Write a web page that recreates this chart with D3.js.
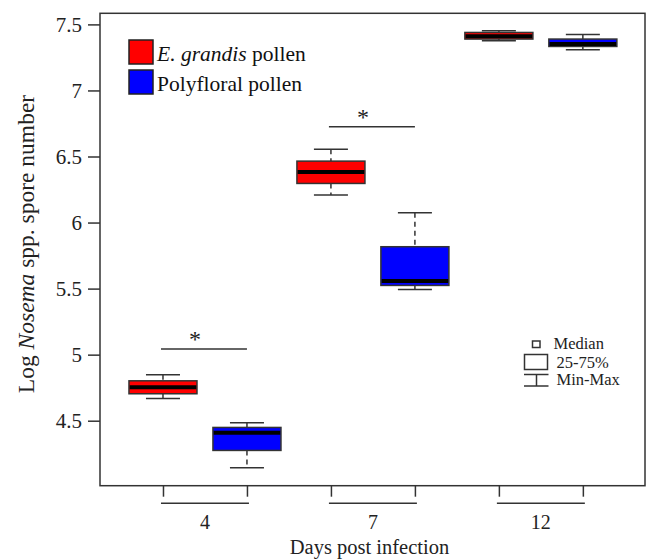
<!DOCTYPE html>
<html>
<head>
<meta charset="utf-8">
<script src="https://cdn.jsdelivr.net/npm/d3@7"></script>
<style>
  body { margin: 0; background: #fff; }
  svg, svg text { font-family: "Liberation Serif", "Times New Roman", serif; }
  svg { display: block; }
</style>
</head>
<body>
<div id="chart"></div>
<script>
const days = ['4', '7', '12'];
const seriesNames = ['E. grandis pollen', 'Polyfloral pollen'];
const seriesColors = ['#ff0000', '#0000ff'];
// [min, q1, median, q3, max] per day
const egrandisStats = [
  [4.669, 4.704, 4.754, 4.802, 4.848],
  [6.208, 6.296, 6.382, 6.465, 6.554],
  [7.376, 7.389, 7.410, 7.439, 7.452]
];
const polyfloralStats = [
  [4.143, 4.275, 4.408, 4.449, 4.484],
  [5.494, 5.524, 5.557, 5.817, 6.074],
  [7.308, 7.333, 7.351, 7.389, 7.424]
];
const yTicks = [4.5, 5, 5.5, 6, 6.5, 7, 7.5];
const sigDays = ['4', '7'];
const sigLevels = [5.042, 6.725];
const summaryLabels = ['Median', '25-75%', 'Min-Max'];

const W = 646, H = 560;
const plotLeft = 100, plotRight = 645, plotTop = 13.3, plotBottom = 485.7;
const ink = '#333';

const svg = d3.select('#chart').append('svg')
  .attr('width', W)
  .attr('height', H);

const y = d3.scaleLinear().domain([4.008, 7.584]).range([plotBottom, plotTop]);
const x = d3.scaleLinear().domain([0.25, 6.74]).range([plotLeft, plotRight]);
const boxW = x(0.81) - x(0);
const capW = boxW / 2;

// one entry per box
const boxes = [];
days.forEach((d, i) => {
  [egrandisStats, polyfloralStats].forEach((s, j) => {
    const [min, q1, med, q3, max] = s[i];
    boxes.push({ day: d, series: j, pos: i * 2 + j + 1, min, q1, med, q3, max });
  });
});

// frame
svg.append('rect')
  .attr('x', plotLeft).attr('y', plotTop)
  .attr('width', plotRight - plotLeft).attr('height', plotBottom - plotTop)
  .attr('fill', 'none').attr('stroke', ink).attr('stroke-width', 1.5);

// y axis
const yAxis = svg.append('g')
  .attr('transform', `translate(${plotLeft},0)`)
  .call(d3.axisLeft(y).tickValues(yTicks).tickSize(12).tickPadding(6).tickFormat(d3.format('')));
yAxis.attr('font-family', null);
yAxis.select('.domain').remove();
yAxis.selectAll('.tick line').attr('stroke', ink).attr('stroke-width', 1.5);
yAxis.selectAll('.tick text')
  .style('font-family', '"Liberation Serif", serif')
  .attr('font-size', 21).attr('fill', '#222');

// x axis: ticks at box centres, bracket per day
const xAxis = svg.append('g')
  .attr('transform', `translate(0,${plotBottom})`)
  .call(d3.axisBottom(x).tickValues(boxes.map(b => b.pos)).tickSize(11).tickFormat(''));
xAxis.select('.domain').remove();
xAxis.selectAll('.tick line').attr('stroke', ink).attr('stroke-width', 1.5);

days.forEach((d, i) => {
  const x0 = x(i * 2 + 1), x1 = x(i * 2 + 2);
  svg.append('line')
    .attr('x1', x0 - 2).attr('x2', x1 + 2)
    .attr('y1', plotBottom + 17.6).attr('y2', plotBottom + 17.6)
    .attr('stroke', ink).attr('stroke-width', 1.5);
  svg.append('text')
    .attr('x', (x0 + x1) / 2).attr('y', 528.5)
    .attr('text-anchor', 'middle')
    .attr('font-size', 20).attr('fill', '#222')
    .text(d);
});

// axis titles
svg.append('text')
  .attr('x', 369.5).attr('y', 554)
  .attr('text-anchor', 'middle')
  .attr('font-size', 20.5).attr('fill', '#222')
  .text('Days post infection');

const yTitle = svg.append('text')
  .attr('transform', 'translate(33.5,244) rotate(-90)')
  .attr('text-anchor', 'middle')
  .attr('font-size', 23.5).attr('fill', '#222');
yTitle.append('tspan').text('Log ');
yTitle.append('tspan').attr('font-style', 'italic').text('Nosema');
yTitle.append('tspan').text(' spp. spore number');

// boxes
const g = svg.selectAll('.box').data(boxes).enter().append('g').attr('class', 'box');

g.append('line')
  .attr('x1', d => x(d.pos)).attr('x2', d => x(d.pos))
  .attr('y1', d => y(d.max)).attr('y2', d => y(d.q3))
  .attr('stroke', ink).attr('stroke-width', 1.5).attr('stroke-dasharray', '5,4');
g.append('line')
  .attr('x1', d => x(d.pos)).attr('x2', d => x(d.pos))
  .attr('y1', d => y(d.q1)).attr('y2', d => y(d.min))
  .attr('stroke', ink).attr('stroke-width', 1.5).attr('stroke-dasharray', '5,4');
['max', 'min'].forEach(k => {
  g.append('line')
    .attr('x1', d => x(d.pos) - capW / 2).attr('x2', d => x(d.pos) + capW / 2)
    .attr('y1', d => y(d[k])).attr('y2', d => y(d[k]))
    .attr('stroke', ink).attr('stroke-width', 1.5);
});
g.append('rect')
  .attr('x', d => x(d.pos) - boxW / 2)
  .attr('y', d => y(d.q3))
  .attr('width', boxW)
  .attr('height', d => y(d.q1) - y(d.q3))
  .attr('fill', d => seriesColors[d.series])
  .attr('stroke', ink).attr('stroke-width', 1.5);
g.append('line')
  .attr('x1', d => x(d.pos) - boxW / 2 + 0.75).attr('x2', d => x(d.pos) + boxW / 2 - 0.75)
  .attr('y1', d => y(d.med)).attr('y2', d => y(d.med))
  .attr('stroke', '#000').attr('stroke-width', 4);

// significance markers
sigDays.forEach((d, k) => {
  const i = days.indexOf(d);
  const x0 = x(i * 2 + 1), x1 = x(i * 2 + 2), yy = y(sigLevels[k]);
  svg.append('line')
    .attr('x1', x0 - 2).attr('x2', x1)
    .attr('y1', yy).attr('y2', yy)
    .attr('stroke', ink).attr('stroke-width', 1.5);
  svg.append('text')
    .attr('x', (x0 + x1) / 2 - 10).attr('y', yy - 2)
    .attr('text-anchor', 'middle')
    .attr('font-size', 24).attr('fill', '#222')
    .text('*');
});

// series legend
const leg = svg.append('g');
seriesNames.forEach((name, i) => {
  const ly = 40 + i * 30;
  leg.append('rect')
    .attr('x', 129).attr('y', ly)
    .attr('width', 24).attr('height', 24)
    .attr('fill', seriesColors[i]).attr('stroke', '#222').attr('stroke-width', 1.5);
  const t = leg.append('text')
    .attr('x', 157).attr('y', ly + 20.5)
    .attr('font-size', 21.5).attr('fill', '#111');
  if (i === 0) {
    t.append('tspan').attr('font-style', 'italic').text('E. grandis');
    t.append('tspan').text(' pollen');
  } else {
    t.text(name);
  }
});

// summary legend
const sl = svg.append('g').attr('stroke', ink).attr('stroke-width', 1.5).attr('fill', 'none');
sl.append('rect').attr('x', 532.5).attr('y', 341).attr('width', 7.5).attr('height', 6.5);
sl.append('rect').attr('x', 524.5).attr('y', 354.5).attr('width', 23).attr('height', 15);
sl.append('line').attr('x1', 524).attr('x2', 548.5).attr('y1', 374.5).attr('y2', 374.5);
sl.append('line').attr('x1', 536.5).attr('x2', 536.5).attr('y1', 374.5).attr('y2', 386);
sl.append('line').attr('x1', 524).attr('x2', 548.5).attr('y1', 386).attr('y2', 386);
[348.5, 367.5, 385].forEach((ty, i) => {
  svg.append('text')
    .attr('x', i === 0 ? 553.5 : 556.5).attr('y', ty)
    .attr('font-size', 16.5).attr('fill', '#222')
    .text(summaryLabels[i]);
});
</script>
</body>
</html>
